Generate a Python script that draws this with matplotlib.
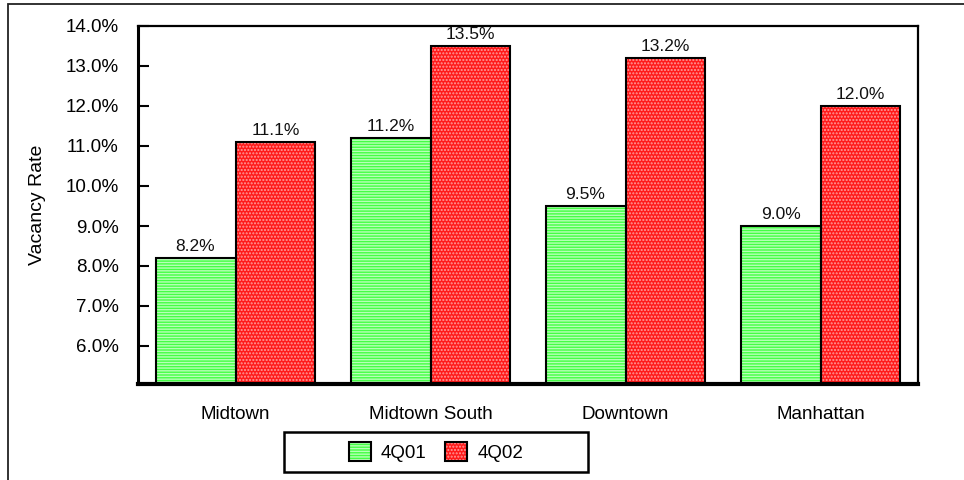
import matplotlib
matplotlib.use("Agg")
import matplotlib.pyplot as plt
from matplotlib.patches import Patch, Rectangle
from matplotlib.legend_handler import HandlerTuple
from matplotlib.ticker import FuncFormatter
import numpy as np

categories = ["Midtown", "Midtown South", "Downtown", "Manhattan"]
series_names = ["4Q01", "4Q02"]
vac_4q01 = [8.2, 11.2, 9.5, 9.0]
vac_4q02 = [11.1, 13.5, 13.2, 12.0]
yticks = [6, 7, 8, 9, 10, 11, 12, 13, 14]

plt.rcParams['font.family'] = ['Liberation Sans', 'DejaVu Sans']
plt.rcParams['hatch.linewidth'] = 1.0

fig = plt.figure(figsize=(9.64, 4.8), dpi=100)
ax = fig.add_axes([138/964, 1-384/480, (918-138)/964, (384-26)/480])

x = np.arange(len(categories))
w = 0.41
styles = [
    dict(face='#44ff44', hatch='------', hc='#b8ffb8'),
    dict(face='#ff1a1a', hatch='.....', hc='#ff9a9a'),
]
handles = []
for i, (vals, st) in enumerate(zip([vac_4q01, vac_4q02], styles)):
    pos = x + (i - 0.5) * w
    ax.bar(pos, vals, w, bottom=0, color=st['face'], hatch=st['hatch'],
           edgecolor=st['hc'], linewidth=0, zorder=2)
    ax.bar(pos, vals, w, bottom=0, fill=False, edgecolor='black',
           linewidth=1.5, zorder=3)
    for p, v in zip(pos, vals):
        ax.annotate(f"{v:.1f}%", (p, v), xytext=(0, 3), textcoords='offset points',
                    ha='center', va='bottom', fontsize=12.5, color='#111111')
    h1 = Patch(facecolor=st['face'], hatch=st['hatch'], edgecolor=st['hc'], linewidth=0)
    h2 = Patch(fill=False, edgecolor='black', linewidth=1.5)
    handles.append((h1, h2))

ax.set_xlim(-0.5, len(categories) - 0.5)
ax.set_ylim(5.05, 14)
ax.set_yticks(yticks)
ax.yaxis.set_major_formatter(FuncFormatter(lambda v, p: f"{v:.1f}%"))
ax.tick_params(axis='y', direction='in', length=8, width=1.5, labelsize=13.5, pad=14)
ax.set_xticks(x)
ax.set_xticklabels(categories)
ax.tick_params(axis='x', length=0, labelsize=13.5, pad=16)
ax.set_ylabel("Vacancy Rate", fontsize=14, labelpad=14)

ax.spines['left'].set_linewidth(2.2)
ax.spines['bottom'].set_linewidth(3.0)
ax.spines['top'].set_linewidth(1.6)
ax.spines['right'].set_linewidth(1.6)

# outer page frame
fig.patches.append(Rectangle((8/964, -0.1), 1.1, 1 - 4/480 + 0.1, transform=fig.transFigure,
                             fill=False, edgecolor='#222222', linewidth=1.3))
# legend box
fig.patches.append(Rectangle((284/964, 1-472/480), (588-284)/964, 40/480,
                             transform=fig.transFigure, fill=False,
                             edgecolor='black', linewidth=1.8))
fig.legend(handles, series_names, handler_map={tuple: HandlerTuple(ndivide=1)},
           loc='center', bbox_to_anchor=(436/964, 1-452/480), ncol=2,
           frameon=False, fontsize=13.5, handlelength=1.15, handleheight=1.15,
           handletextpad=0.55, columnspacing=1.0)

fig.savefig("out.png", dpi=100)
